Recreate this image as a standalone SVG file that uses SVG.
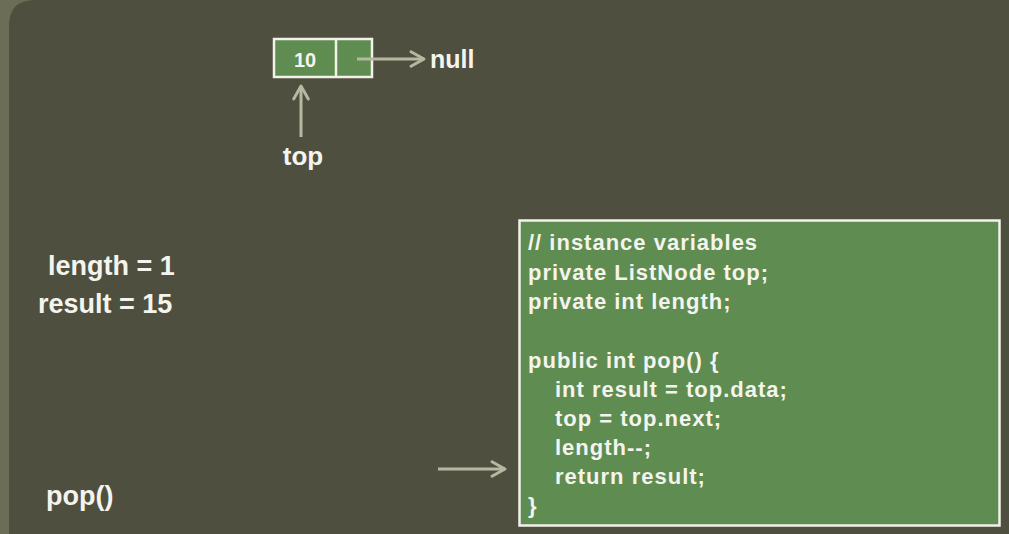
<svg xmlns="http://www.w3.org/2000/svg" width="1009" height="534" viewBox="0 0 1009 534">
<style>
.t{font-family:"Liberation Sans",Arial,sans-serif;font-weight:bold;fill:#f4f4ee}
.big{font-size:27px}
.code{font-size:22px;letter-spacing:1px}
.conn{stroke:#b8b8a2;stroke-width:3;fill:none}
</style>
<defs>
<marker id="ah" viewBox="0 0 12 12" refX="10" refY="6" markerWidth="6.5" markerHeight="6.5" orient="auto" markerUnits="strokeWidth">
<path d="M2,1.5 L10,6 L2,10.5" fill="none" stroke="#b8b8a2" stroke-width="1.8" stroke-linecap="round" stroke-linejoin="round"/>
</marker>
</defs>
<rect x="0" y="0" width="1009" height="534" fill="#6b6d57"/>
<path d="M9,534 L9,26 Q9,0 35,0 L1009,0 L1009,534 Z" fill="#4f4f3f"/>
<g id="node10">
<rect x="274" y="39" width="98" height="38" fill="#5f8c50" stroke="#f2f2ea" stroke-width="2.5"/>
<line x1="336" y1="39" x2="336" y2="77" stroke="#f2f2ea" stroke-width="2.5"/>
<text class="t" x="305" y="66.5" font-size="20" text-anchor="middle">10</text>
</g>
<g id="null"><text class="t" x="430" y="68" font-size="25">null</text></g>
<g id="top"><text class="t" x="303" y="165" font-size="26" text-anchor="middle">top</text></g>
<g id="vars">
<text class="t big" x="48" y="275">length = 1</text>
<text class="t big" x="38" y="313">result = 15</text>
</g>
<g id="call"><text class="t big" x="46" y="505">pop()</text></g>
<g id="code">
<rect x="519.5" y="220.5" width="480" height="305" fill="#5f8c50" stroke="#f2f2ea" stroke-width="2.5"/>
<text class="t code" x="528" y="250">// instance variables</text>
<text class="t code" x="528" y="280">private ListNode top;</text>
<text class="t code" x="528" y="309">private int length;</text>
<text class="t code" x="528" y="368">public int pop() {</text>
<text class="t code" x="555" y="397">int result = top.data;</text>
<text class="t code" x="555" y="426">top = top.next;</text>
<text class="t code" x="555" y="455">length--;</text>
<text class="t code" x="555" y="484">return result;</text>
<text class="t code" x="528" y="513">}</text>
</g>
<g id="connectors">
<line class="conn" x1="357" y1="59" x2="424" y2="59" marker-end="url(#ah)"/>
<line class="conn" x1="301" y1="137" x2="301" y2="86" marker-end="url(#ah)"/>
<line class="conn" x1="438" y1="469" x2="505" y2="469" marker-end="url(#ah)"/>
</g>
</svg>
